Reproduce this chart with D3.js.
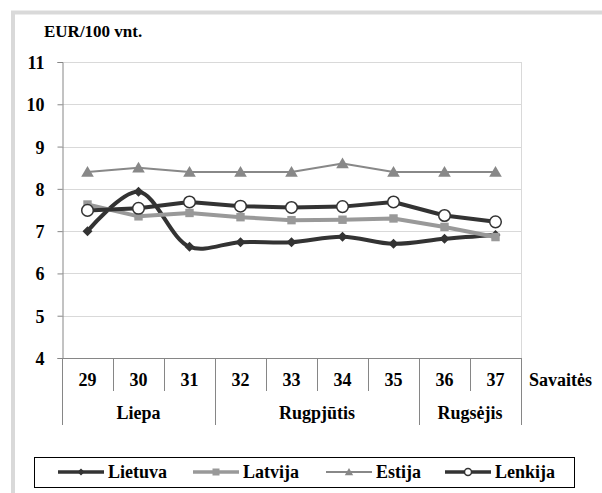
<!DOCTYPE html>
<html>
<head>
<meta charset="utf-8">
<script src="https://cdn.jsdelivr.net/npm/d3@7"></script>
<style>
  body { margin: 0; background: #fff; }
</style>
</head>
<body>
<div id="chart"></div>
<script>
// weeks and months
const weeks = ["29", "30", "31", "32", "33", "34", "35", "36", "37"];
const months = [
  {name: "Liepa", from: 0, to: 3},
  {name: "Rugpjūtis", from: 3, to: 7},
  {name: "Rugsėjis", from: 7, to: 9}
];
const yTicks = [4, 5, 6, 7, 8, 9, 10, 11];

// EUR/100 vnt. per week
const lietuva = [7.0, 7.93, 6.63, 6.74, 6.74, 6.87, 6.70, 6.82, 6.91];
const latvija = [7.63, 7.35, 7.43, 7.33, 7.26, 7.27, 7.30, 7.10, 6.86];
const estija  = [8.4, 8.5, 8.4, 8.4, 8.4, 8.6, 8.4, 8.4, 8.4];
const lenkija = [7.49, 7.54, 7.69, 7.59, 7.56, 7.58, 7.69, 7.37, 7.22];

const series = [
  {name: "Lietuva", values: lietuva, color: "#333333", width: 4, marker: "diamond", smooth: true},
  {name: "Latvija", values: latvija, color: "#999999", width: 4, marker: "square"},
  {name: "Estija", values: estija, color: "#888888", width: 2, marker: "triangle"},
  {name: "Lenkija", values: lenkija, color: "#333333", width: 4, marker: "circle"}
];

const FONT = "'Liberation Serif', Tinos, 'Times New Roman', 'DejaVu Serif', serif";
const width = 602, height = 493;
const plotLeft = 62, plotRight = 521, plotTop = 62, plotBottom = 358;

const svg = d3.select("#chart").append("svg")
    .attr("width", width)
    .attr("height", height);

// outer frame (cut off by the picture on right/bottom)
svg.append("rect")
    .attr("x", 13).attr("y", 12.5)
    .attr("width", 700).attr("height", 600)
    .attr("fill", "none")
    .attr("stroke", "#d9d9d9")
    .attr("stroke-width", 4);

const x = d3.scaleBand().domain(weeks).range([plotLeft, plotRight]).padding(0);
const y = d3.scaleLinear().domain([4, 11]).range([plotBottom, plotTop]);
const cx = (d, i) => x(weeks[i]) + x.bandwidth() / 2;

function label(sel) {
  return sel.attr("font-family", FONT).attr("font-weight", "bold").attr("font-size", 18).attr("fill", "#000");
}

// gridlines
svg.append("g")
  .selectAll("line")
  .data(yTicks.slice(1))
  .join("line")
    .attr("x1", plotLeft).attr("x2", plotRight)
    .attr("y1", d => Math.round(y(d)) + 0.5)
    .attr("y2", d => Math.round(y(d)) + 0.5)
    .attr("stroke", "#d9d9d9");

// right border of plot area
svg.append("line")
    .attr("x1", plotRight + 0.5).attr("x2", plotRight + 0.5)
    .attr("y1", plotTop).attr("y2", plotBottom)
    .attr("stroke", "#d9d9d9");

// y axis
svg.append("g")
    .attr("transform", `translate(${plotLeft + 0.5},0)`)
    .call(d3.axisLeft(y).tickValues(yTicks).tickSize(5).tickPadding(13).tickFormat(d3.format("d")))
    .call(g => g.attr("font-family", FONT))
    .call(g => g.selectAll("line, path").attr("stroke", "#868686"))
    .call(g => g.selectAll("text").call(label).attr("dy", "0.36em"));

// x axis line
svg.append("line")
    .attr("x1", plotLeft).attr("x2", plotRight + 1)
    .attr("y1", Math.round(plotBottom) + 0.5).attr("y2", Math.round(plotBottom) + 0.5)
    .attr("stroke", "#868686");

// category separators
const monthEdges = new Set(months.map(m => m.from).concat([weeks.length]));
svg.append("g")
  .selectAll("line")
  .data(d3.range(weeks.length + 1))
  .join("line")
    .attr("x1", i => Math.round(plotLeft + i * x.bandwidth()) + 0.5)
    .attr("x2", i => Math.round(plotLeft + i * x.bandwidth()) + 0.5)
    .attr("y1", plotBottom)
    .attr("y2", i => monthEdges.has(i) ? 425 : 391)
    .attr("stroke", "#868686");

svg.append("g")
  .selectAll("text")
  .data(weeks)
  .join("text")
    .attr("x", d => x(d) + x.bandwidth() / 2)
    .attr("y", 386)
    .attr("text-anchor", "middle")
    .call(label)
    .text(d => d);

svg.append("g")
  .selectAll("text")
  .data(months)
  .join("text")
    .attr("x", d => plotLeft + (d.from + d.to) / 2 * x.bandwidth())
    .attr("y", 419)
    .attr("text-anchor", "middle")
    .call(label)
    .text(d => d.name);

svg.append("text")
    .attr("x", 529).attr("y", 386)
    .call(label)
    .text("Savaitės");

svg.append("text")
    .attr("x", 44).attr("y", 37)
    .call(label)
    .attr("font-size", 17)
    .text("EUR/100 vnt.");

// markers
function drawMarker(g, type, px, py, s, color) {
  if (type === "diamond") {
    g.append("path")
      .attr("d", `M${px},${py - s}L${px + s},${py}L${px},${py + s}L${px - s},${py}Z`)
      .attr("fill", color);
  } else if (type === "square") {
    g.append("rect")
      .attr("x", px - s).attr("y", py - s)
      .attr("width", 2 * s).attr("height", 2 * s)
      .attr("fill", color);
  } else if (type === "triangle") {
    g.append("path")
      .attr("d", `M${px},${py - s}L${px + s * 1.05},${py + s * 0.8}L${px - s * 1.05},${py + s * 0.8}Z`)
      .attr("fill", color);
  } else {
    g.append("circle")
      .attr("cx", px).attr("cy", py).attr("r", s)
      .attr("fill", "#fff")
      .attr("stroke", color)
      .attr("stroke-width", 1.5);
  }
}

const markerSize = {diamond: 5, square: 4.2, triangle: 6, circle: 5.8};

series.forEach(s => {
  const g = svg.append("g");
  const line = d3.line()
      .x(cx)
      .y(d => y(d))
      .curve(s.smooth ? d3.curveCatmullRom.alpha(0.5) : d3.curveLinear);
  g.append("path")
      .attr("d", line(s.values))
      .attr("fill", "none")
      .attr("stroke", s.color)
      .attr("stroke-width", s.width)
      .attr("stroke-linejoin", "round");
  s.values.forEach((v, i) => drawMarker(g, s.marker, cx(v, i), y(v), markerSize[s.marker], s.color));
});

// legend
svg.append("rect")
    .attr("x", 34.5).attr("y", 457.5)
    .attr("width", 540).attr("height", 30)
    .attr("fill", "#fff")
    .attr("stroke", "#000");

const legendX = [58, 193, 326, 445];
const legendMarker = {diamond: 3.5, square: 3.5, triangle: 4, circle: 3.5};
series.forEach((s, i) => {
  const g = svg.append("g");
  const x0 = legendX[i], ly = 472;
  g.append("line")
      .attr("x1", x0).attr("x2", x0 + 46)
      .attr("y1", ly).attr("y2", ly)
      .attr("stroke", s.color)
      .attr("stroke-width", s.width === 2 ? 2 : 3.5);
  drawMarker(g, s.marker, x0 + 23, ly, legendMarker[s.marker], s.color);
  g.append("text")
      .attr("x", x0 + 50).attr("y", 478)
      .call(label)
      .text(s.name);
});
</script>
</body>
</html>
